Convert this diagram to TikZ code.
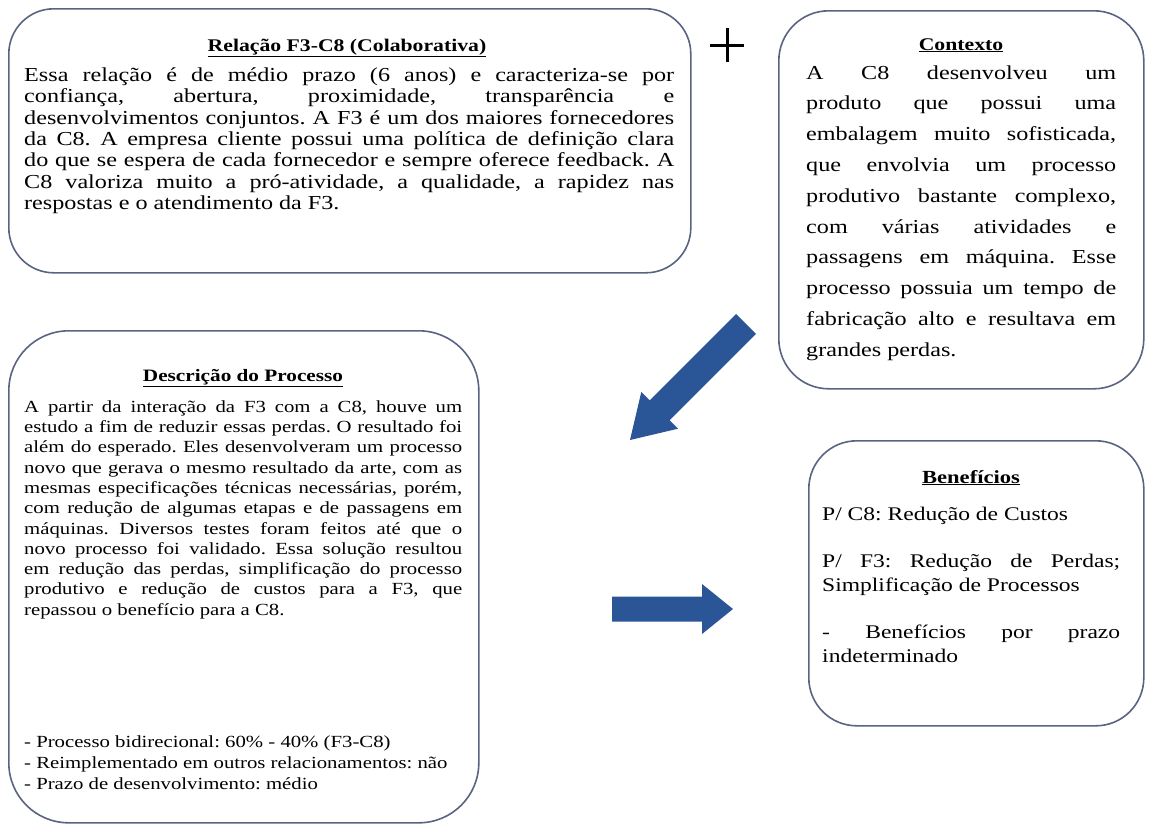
\documentclass[tikz,border=0pt]{standalone}
\usepackage{fontspec}
\setmainfont{Liberation Serif}[FakeStretch=1.22]
\usetikzlibrary{calc}

\definecolor{boxline}{RGB}{88,100,128}
\definecolor{arrowblue}{RGB}{42,86,152}

% one justified line, stretched to the full text width
\newcommand{\jl}[1]{\makebox[\hsize][s]{#1}\par}
% strut fixing the top of a text block one em above its first baseline
\newcommand{\firststrut}{\rule{0pt}{1em}}
% block arrow from #1 (tail) to #2 (tip): shaft half-width #3, head half-width #4, head length #5
\newcommand{\fatarrow}[5]{%
  \coordinate (fa-base) at ($(#2)!#5!(#1)$);
  \fill[arrowblue] ($(#1)!#3!90:(#2)$) -- ($(fa-base)!#3!90:(#2)$) -- ($(fa-base)!#4!90:(#2)$)
    -- (#2) -- ($(fa-base)!#4!-90:(#2)$) -- ($(fa-base)!#3!-90:(#2)$) -- ($(#1)!#3!-90:(#2)$) -- cycle;}

\tikzset{
  panel/.style={draw=boxline, line width=1.6pt, fill=white, rounded corners=#1,
    anchor=north west, inner sep=0pt},
  bodytext/.style={anchor=north west, inner sep=0pt, text width=#1, align=justify},
  heading/.style={anchor=base, inner sep=0pt},
}

\begin{document}
\frenchspacing
\begin{tikzpicture}[x=1pt, y=-1pt]
\useasboundingbox (0,0) rectangle (1153,836);
\fill[white] (0,0) rectangle (1153,836);

% ---- panels ----
\node[panel=45, minimum width=682, minimum height=264] (rel) at (8,8) {};
\node[panel=50, minimum width=365, minimum height=378] (ctx) at (778,10) {};
\node[panel=60, minimum width=470, minimum height=492] (desc) at (8,330) {};
\node[panel=48, minimum width=335, minimum height=285] (ben) at (808,440) {};

% ---- Relação F3-C8 ----
\node[heading, font=\fontsize{17.8}{20}\selectfont\bfseries] (relH) at (347,51)
  {\underline{Relação F3-C8 (Colaborativa)}};
\node[bodytext=650, font=\fontsize{19.8}{21.3}\selectfont] (relB) at (24,61.5) {%
  \parindent=0pt
  \jl{\firststrut Essa relação é de médio prazo (6 anos) e caracteriza-se por}
  \jl{confiança, abertura, proximidade, transparência e}
  \jl{desenvolvimentos conjuntos. A F3 é um dos maiores fornecedores}
  \jl{da C8. A empresa cliente possui uma política de definição clara}
  \jl{do que se espera de cada fornecedor e sempre oferece feedback. A}
  \jl{C8 valoriza muito a pró-atividade, a qualidade, a rapidez nas}
  respostas e o atendimento da F3.\par};

% ---- plus sign ----
\coordinate (plus) at (727,45);
\draw[line width=3pt, black] ($(plus)+(-17,0)$) -- ($(plus)+(17,0)$);
\draw[line width=3pt, black] ($(plus)+(0,-17)$) -- ($(plus)+(0,17)$);

% ---- Contexto ----
\node[heading, font=\fontsize{17.8}{20}\selectfont\bfseries] (ctxH) at (961,50)
  {\underline{Contexto}};
\node[bodytext=310, font=\fontsize{19.8}{30.8}\selectfont] (ctxB) at (806,59) {%
  \parindent=0pt
  \jl{\firststrut A C8 desenvolveu um}
  \jl{produto que possui uma}
  \jl{embalagem muito sofisticada,}
  \jl{que envolvia um processo}
  \jl{produtivo bastante complexo,}
  \jl{com várias atividades e}
  \jl{passagens em máquina. Esse}
  \jl{processo possuia um tempo de}
  \jl{fabricação alto e resultava em}
  grandes perdas.\par};

% ---- Descrição do Processo ----
\node[heading, font=\fontsize{17.4}{20}\selectfont\bfseries] (descH) at (243,381)
  {\underline{Descrição do Processo}};
\node[bodytext=438, font=\fontsize{17}{20.3}\selectfont] (descB) at (24,395) {%
  \parindent=0pt
  \jl{\firststrut A partir da interação da F3 com a C8, houve um}
  \jl{estudo a fim de reduzir essas perdas. O resultado foi}
  \jl{além do esperado. Eles desenvolveram um processo}
  \jl{novo que gerava o mesmo resultado da arte, com as}
  \jl{mesmas especificações técnicas necessárias, porém,}
  \jl{com redução de algumas etapas e de passagens em}
  \jl{máquinas. Diversos testes foram feitos até que o}
  \jl{novo processo foi validado. Essa solução resultou}
  \jl{em redução das perdas, simplificação do processo}
  \jl{produtivo e redução de custos para a F3, que}
  repassou o benefício para a C8.\par};
\node[bodytext=438, font=\fontsize{17}{21}\selectfont] (descL) at (24,730) {%
  \parindent=0pt
  \firststrut- Processo bidirecional: 60\% - 40\% (F3-C8)\par
  - Reimplementado em outros relacionamentos: não\par
  - Prazo de desenvolvimento: médio\par};

% ---- Benefícios ----
\node[heading, font=\fontsize{18.5}{20}\selectfont\bfseries] (benH) at (971,483)
  {\underline{Benefícios}};
\node[bodytext=298, font=\fontsize{19.3}{24}\selectfont] (benB) at (822,500.7) {%
  \parindent=0pt
  \firststrut P/ C8: Redução de Custos\par
  \vspace{23pt}
  \jl{P/ F3: Redução de Perdas;}
  Simplificação de Processos\par
  \vspace{23pt}
  \jl{- Benefícios por prazo}
  indeterminado\par};

% ---- block arrows ----
\coordinate (dTail) at (746,324);
\coordinate (dTip) at (630,440);
\fatarrow{dTail}{dTip}{14pt}{26pt}{42pt}
\coordinate (rTail) at (612,609);
\coordinate (rTip) at (733,609);
\fatarrow{rTail}{rTip}{12.5pt}{25pt}{31pt}
\end{tikzpicture}
\end{document}
